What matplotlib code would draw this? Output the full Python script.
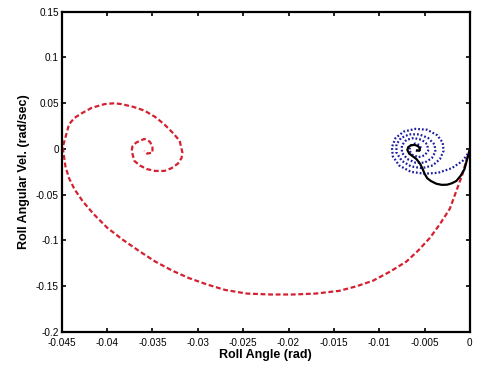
import matplotlib
matplotlib.use('Agg')
import matplotlib.pyplot as plt

plt.rcParams['font.family'] = ['Liberation Sans', 'DejaVu Sans']

# red dashed trajectory (large spiral)
red_x = [0.0, -0.0004, -0.0008, -0.0015, -0.0022, -0.0033, -0.0044, -0.0057, -0.007, -0.0088,
         -0.0107, -0.0125, -0.0144, -0.017, -0.0195, -0.022, -0.0246, -0.027, -0.029, -0.031,
         -0.0328, -0.0347, -0.0364, -0.0383, -0.040, -0.0415, -0.0427, -0.0436, -0.0442, -0.0446,
         -0.0448, -0.0449, -0.0447, -0.0442, -0.0436, -0.0428, -0.0417, -0.0403, -0.0392, -0.0384,
         -0.0371, -0.0359, -0.0347, -0.0337, -0.0328, -0.032, -0.0317, -0.0318, -0.0322, -0.0329,
         -0.0337, -0.0347, -0.0356, -0.0364, -0.037, -0.0373, -0.0372, -0.0368, -0.0359, -0.0353,
         -0.035, -0.035, -0.0356, -0.0359]
red_y = [0.0, -0.013, -0.027, -0.046, -0.065, -0.082, -0.097, -0.111, -0.123, -0.134,
         -0.144, -0.150, -0.155, -0.158, -0.159, -0.159, -0.158, -0.154, -0.148, -0.141,
         -0.133, -0.123, -0.112, -0.099, -0.086, -0.071, -0.057, -0.044, -0.032, -0.019,
         -0.005, 0.002, 0.009, 0.027, 0.034, 0.039, 0.045, 0.049, 0.050, 0.049,
         0.046, 0.042, 0.035, 0.027, 0.018, 0.009, -0.004, -0.010, -0.016, -0.021,
         -0.024, -0.024, -0.022, -0.018, -0.013, -0.002, 0.003, 0.007, 0.011, 0.008,
         0.003, -0.004, -0.005, -0.002]

# blue dotted trajectory (tight spiral near the right edge)
blue_x = [0.0, -0.0008, -0.002, -0.0035, -0.005, -0.0065, -0.0078, -0.0085, -0.0086, -0.0082,
          -0.0073, -0.006, -0.0047, -0.0036, -0.003, -0.0029, -0.0033, -0.0041, -0.0053, -0.0065,
          -0.0075, -0.0081, -0.0081, -0.0076, -0.0067, -0.0056, -0.0046, -0.0039, -0.0038, -0.0042,
          -0.005, -0.006, -0.0069, -0.0075, -0.0075, -0.007, -0.0062, -0.0053, -0.0047, -0.0046,
          -0.005, -0.0057, -0.0064, -0.0067, -0.0065, -0.006, -0.0055, -0.0054, -0.0057, -0.006]
blue_y = [-0.002, -0.013, -0.021, -0.026, -0.027, -0.025, -0.018, -0.008, 0.002, 0.012,
          0.019, 0.022, 0.021, 0.015, 0.007, -0.002, -0.011, -0.018, -0.021, -0.019,
          -0.013, -0.004, 0.005, 0.012, 0.016, 0.016, 0.012, 0.005, -0.003, -0.010,
          -0.015, -0.015, -0.011, -0.004, 0.004, 0.010, 0.012, 0.010, 0.005, -0.002,
          -0.007, -0.009, -0.006, -0.001, 0.004, 0.006, 0.004, 0.0, -0.003, -0.001]

# black solid trajectory
black_x = [0.0, -0.0003, -0.0006, -0.001, -0.0015, -0.002, -0.0025, -0.0031, -0.0037, -0.0043,
           -0.0047, -0.005, -0.0052, -0.0055, -0.0059, -0.0063, -0.0067, -0.0069, -0.0068, -0.0065,
           -0.0061, -0.0057, -0.0055, -0.0056, -0.0058]
black_y = [-0.001, -0.011, -0.022, -0.029, -0.035, -0.0375, -0.039, -0.0392, -0.038, -0.035,
           -0.032, -0.027, -0.022, -0.016, -0.011, -0.008, -0.005, -0.001, 0.002, 0.004,
           0.0045, 0.003, 0.0, -0.002, -0.0015]

xticks = [-0.045, -0.04, -0.035, -0.03, -0.025, -0.02, -0.015, -0.01, -0.005, 0]
xticklabels = ['-0.045', '-0.04', '-0.035', '-0.03', '-0.025', '-0.02', '-0.015', '-0.01', '-0.005', '0']
yticks = [-0.2, -0.15, -0.1, -0.05, 0, 0.05, 0.1, 0.15]
yticklabels = ['-0.2', '-0.15', '-0.1', '-0.05', '0', '0.05', '0.1', '0.15']

fig = plt.figure(figsize=(4.79, 3.72), dpi=100)
ax = fig.add_axes([0.129, 0.1075, 0.852, 0.861])

ax.plot(red_x, red_y, color='#d42030', linestyle=(0, (2.2, 1.2)), linewidth=1.6)
ax.plot(blue_x, blue_y, color='#1c1ca0', linestyle=(0, (0.8, 0.9)), linewidth=1.6)
ax.plot(black_x, black_y, color='black', linestyle='-', linewidth=1.6)

ax.set_xlim(-0.045, 0)
ax.set_ylim(-0.2, 0.15)
ax.set_xticks(xticks)
ax.set_xticklabels(xticklabels)
ax.set_yticks(yticks)
ax.set_yticklabels(yticklabels)
ax.tick_params(direction='in', top=True, right=True, labelsize=7.2, length=3, width=1.2, pad=2)
ax.tick_params(axis='x', pad=4)
for s in ax.spines.values():
    s.set_linewidth(1.6)

ax.set_xlabel('Roll Angle (rad)', fontsize=9, fontweight='bold', labelpad=1)
ax.set_ylabel('Roll Angular Vel. (rad/sec)', fontsize=9, fontweight='bold', labelpad=4)

fig.savefig('out.png', dpi=100)
